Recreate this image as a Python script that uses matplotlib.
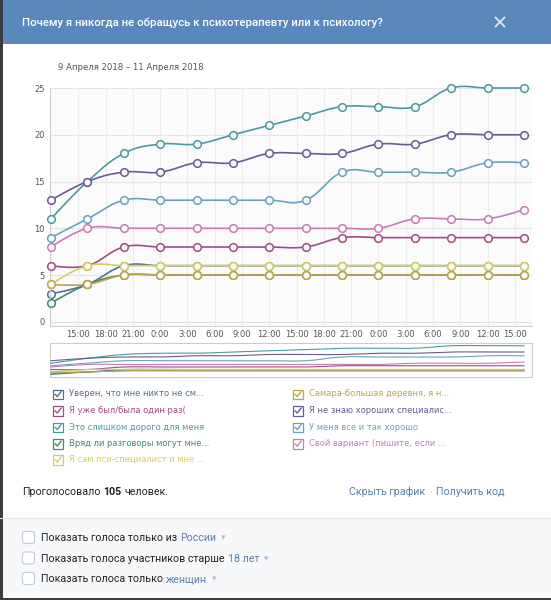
import numpy as np
import matplotlib
matplotlib.use("Agg")
import matplotlib.pyplot as plt
from matplotlib.patches import Rectangle, FancyBboxPatch

# ---------------- data ----------------
title = "Почему я никогда не обращусь к психотерапевту или к психологу?"
date_range = "9 Апреля 2018 – 11 Апреля 2018"
start_hour = 12  # first sample: 9 April 12:00
hours = [0, 4, 8, 12, 16, 20, 24, 28, 32, 36, 40, 44, 48, 52]
tick_hours = [3, 6, 9, 12, 15, 18, 21, 24, 27, 30, 33, 36, 39, 42, 45, 48, 51]
y_ticks = [0, 5, 10, 15, 20, 25]

series_names = [
    "Уверен, что мне никто не см...",
    "Я уже был/была один раз(",
    "Это слишком дорого для меня",
    "Вряд ли разговоры могут мне...",
    "Я сам пси-специалист и мне ...",
    "Самара-большая деревня, я н...",
    "Я не знаю хороших специалис...",
    "У меня все и так хорошо",
    "Свой вариант (пишите, если ...",
]
uveren = [3, 4, 6, 6, 6, 6, 6, 6, 6, 6, 6, 6, 6, 6]
uzhe_byl = [6, 6, 8, 8, 8, 8, 8, 8, 9, 9, 9, 9, 9, 9]
dorogo = [11, 15, 18, 19, 19, 20, 21, 22, 23, 23, 23, 25, 25, 25]
vryad_li = [2, 4, 5, 5, 5, 5, 5, 5, 5, 5, 5, 5, 5, 5]
sam_psi = [4, 6, 6, 6, 6, 6, 6, 6, 6, 6, 6, 6, 6, 6]
samara = [4, 4, 5, 5, 5, 5, 5, 5, 5, 5, 5, 5, 5, 5]
ne_znayu = [13, 15, 16, 16, 17, 17, 18, 18, 18, 19, 19, 20, 20, 20]
vse_horosho = [9, 11, 13, 13, 13, 13, 13, 13, 16, 16, 16, 16, 17, 17]
svoy = [8, 10, 10, 10, 10, 10, 10, 10, 10, 10, 11, 11, 11, 12]
series_values = [uveren, uzhe_byl, dorogo, vryad_li, sam_psi, samara,
                 ne_znayu, vse_horosho, svoy]
series_colors = ["#54708f", "#9c4d85", "#4a9aa0", "#3f8c6e", "#d6cd5e",
                 "#bfa44a", "#6c5a92", "#68a3bd", "#c77cb6"]
total_votes = "105"
filters = [("Показать голоса только из", "России"),
           ("Показать голоса участников старше", "18 лет"),
           ("Показать голоса только", "женщин")]

# ---------------- helpers ----------------
def hc_spline(xs, ys, smoothing=1.5, n=24):
    N = len(xs)
    lc, rc = [None] * N, [None] * N
    for i in range(N):
        x, y = xs[i], ys[i]
        if 0 < i < N - 1:
            d = smoothing + 1
            lcx = (smoothing * x + xs[i - 1]) / d
            lcy = (smoothing * y + ys[i - 1]) / d
            rcx = (smoothing * x + xs[i + 1]) / d
            rcy = (smoothing * y + ys[i + 1]) / d
            corr = ((rcy - lcy) * (rcx - x)) / (rcx - lcx) + y - rcy
            lc[i] = (lcx, lcy + corr)
            rc[i] = (rcx, rcy + corr)
        else:
            lc[i] = (x, y)
            rc[i] = (x, y)
    ox, oy = [xs[0]], [ys[0]]
    t = np.linspace(0, 1, n)[1:]
    for i in range(1, N):
        p0 = (xs[i - 1], ys[i - 1]); p1 = rc[i - 1]; p2 = lc[i]; p3 = (xs[i], ys[i])
        a, b, c, e = (1 - t) ** 3, 3 * (1 - t) ** 2 * t, 3 * (1 - t) * t ** 2, t ** 3
        ox.extend(a * p0[0] + b * p1[0] + c * p2[0] + e * p3[0])
        oy.extend(a * p0[1] + b * p1[1] + c * p2[1] + e * p3[1])
    return np.array(ox), np.array(oy)


W, H = 551, 600
fig = plt.figure(figsize=(W / 100, H / 100), dpi=100)
fig.patch.set_facecolor("white")

bg = fig.add_axes([0, 0, 1, 1], zorder=-1)
bg.set_xlim(0, W)
bg.set_ylim(H, 0)
bg.axis("off")
renderer = fig.canvas.get_renderer()

def text_w(t):
    return t.get_window_extent(renderer).width

UI = ["Roboto", "DejaVu Sans"]
CH = ["DejaVu Sans"]
UIFS = 7.7
GAP = 3.0

def runs(x, y, parts, **kw):
    for i, (txt, props) in enumerate(parts):
        t = bg.text(x, y, txt, ha="left", va="center", **{**kw, **props})
        x += text_w(t) + GAP
    return x

# header
bg.add_patch(Rectangle((0, 0), W, 44, color="#5a87bc", lw=0))
bg.text(22, 22.5, title, color="white", fontsize=8.2, family=UI,
        fontweight="medium", va="center", ha="left")
bg.plot([495.5, 504.5], [17.5, 26.5], color="#dce5f0", lw=1.3)
bg.plot([495.5, 504.5], [26.5, 17.5], color="#dce5f0", lw=1.3)

# date range
bg.text(58, 68, date_range, color="#555555", fontsize=6.15, family=CH,
        va="center", ha="left")

# bottom gray area
bg.add_patch(Rectangle((0, 518), W, H - 518, color="#f7f8fa", lw=0))
bg.plot([0, W], [518, 518], color="#e3e5e9", lw=0.8)
bg.add_patch(Rectangle((0, 0), 2.5, H, color="#3c3c3c", lw=0))
bg.add_patch(Rectangle((0, H - 2.5), W, 2.5, color="#3c3c3c", lw=0))

# votes line
runs(22, 492, [("Проголосовало", {}),
               (total_votes, {"fontweight": "bold"}),
               ("человек.", {})], fontsize=UIFS, family=UI, color="#222222")
link_col = "#5b7ea5"
t_get = bg.text(504, 492, "Получить код", ha="right", va="center",
                fontsize=UIFS, family=UI, color=link_col)
xr = 504 - text_w(t_get) - 4
t_dot = bg.text(xr, 492, "·", ha="right", va="center", fontsize=UIFS,
                family=UI, color="#a8a8a8")
xr -= text_w(t_dot) + 4
bg.text(xr, 492, "Скрыть график", ha="right", va="center", fontsize=UIFS,
        family=UI, color=link_col)

# filters
for i, (pre, hl) in enumerate(filters):
    yy = 538 + i * 20.5
    bg.add_patch(FancyBboxPatch((22.5, yy - 6.5), 12, 12,
                                boxstyle="round,pad=0,rounding_size=2.5",
                                fc="white", ec="#c3ccd6", lw=0.8))
    x = runs(41, yy, [(pre, {"color": "#222222"}),
                      (hl, {"color": link_col})], fontsize=UIFS, family=UI)
    bg.text(x + 2, yy, "▾", ha="left", va="center", fontsize=6.5,
            family=["DejaVu Sans"], color="#b6bdc6")

# legend
left_rows = [394, 410.5, 427, 443.5, 459.5]
for i, (name, col) in enumerate(zip(series_names, series_colors)):
    if i < 5:
        bx, yy = 53, left_rows[i]
    else:
        bx, yy = 293, left_rows[i - 5]
    bg.add_patch(Rectangle((bx, yy - 4.5), 9.5, 9.5, fc="white", ec=col, lw=0.9))
    bg.plot([bx + 2, bx + 4.3, bx + 8.2], [yy + 0.2, yy + 2.6, yy - 2.6],
            color=col, lw=1.0, solid_capstyle="round")
    bg.text(bx + 16, yy, name, color=col, fontsize=6.0, family=CH,
            va="center", ha="left")

# ---------------- main chart ----------------
x0, x1 = 50, 532
ytop, ybot = 88, 326
ax = fig.add_axes([x0 / W, 1 - ybot / H, (x1 - x0) / W, (ybot - ytop) / H])
ax.set_facecolor("#fbfbfb")
ax.set_xlim(-0.11, 52.88)
ax.set_ylim(-0.45, 25)
for s in ["top", "right"]:
    ax.spines[s].set_visible(False)
for s in ["left", "bottom"]:
    ax.spines[s].set_color("#d0d0d0")
    ax.spines[s].set_linewidth(0.8)
ax.set_yticks(y_ticks)
ax.set_yticklabels([str(v) for v in y_ticks])
ax.set_xticks(tick_hours)
ax.set_xticklabels([f"{(start_hour + h) % 24}:00" for h in tick_hours])
ax.tick_params(axis="both", length=0, labelsize=6.0, labelcolor="#555555")
ax.tick_params(axis="y", pad=3.6)
ax.tick_params(axis="x", pad=3.0)
for lab in ax.get_xticklabels() + ax.get_yticklabels():
    lab.set_family(CH)
for v in y_ticks:
    ax.axhline(v, color="#e4e4e4", lw=0.8, zorder=0)
for h in tick_hours:
    ax.axvline(h, color="#ebebeb", lw=0.8, zorder=0)

for k, (vals, col) in enumerate(zip(series_values, series_colors)):
    sx, sy = hc_spline(hours, vals)
    ax.plot(sx, sy, color=col, lw=1.2, zorder=2 + k, solid_capstyle="round",
            clip_on=False)
    ax.plot(hours, vals, linestyle="none", marker="o", markersize=5.5,
            markerfacecolor="#fafafa", markeredgecolor=col,
            markeredgewidth=1.1, zorder=2 + k, clip_on=False)

# ---------------- navigator ----------------
ny0, ny1 = 343, 377
nav = fig.add_axes([x0 / W, 1 - ny1 / H, (x1 - x0) / W, (ny1 - ny0) / H])
nav.set_xlim(-0.11, 52.88)
nav.set_ylim(0, 27.2)
nav.set_xticks([]); nav.set_yticks([])
for s in nav.spines.values():
    s.set_color("#cccccc"); s.set_linewidth(0.8)
for k, (vals, col) in enumerate(zip(series_values, series_colors)):
    sx, sy = hc_spline(hours, vals)
    nav.plot(sx, sy, color=col, lw=0.8, zorder=2 + k)

fig.savefig("out.png", dpi=100)
